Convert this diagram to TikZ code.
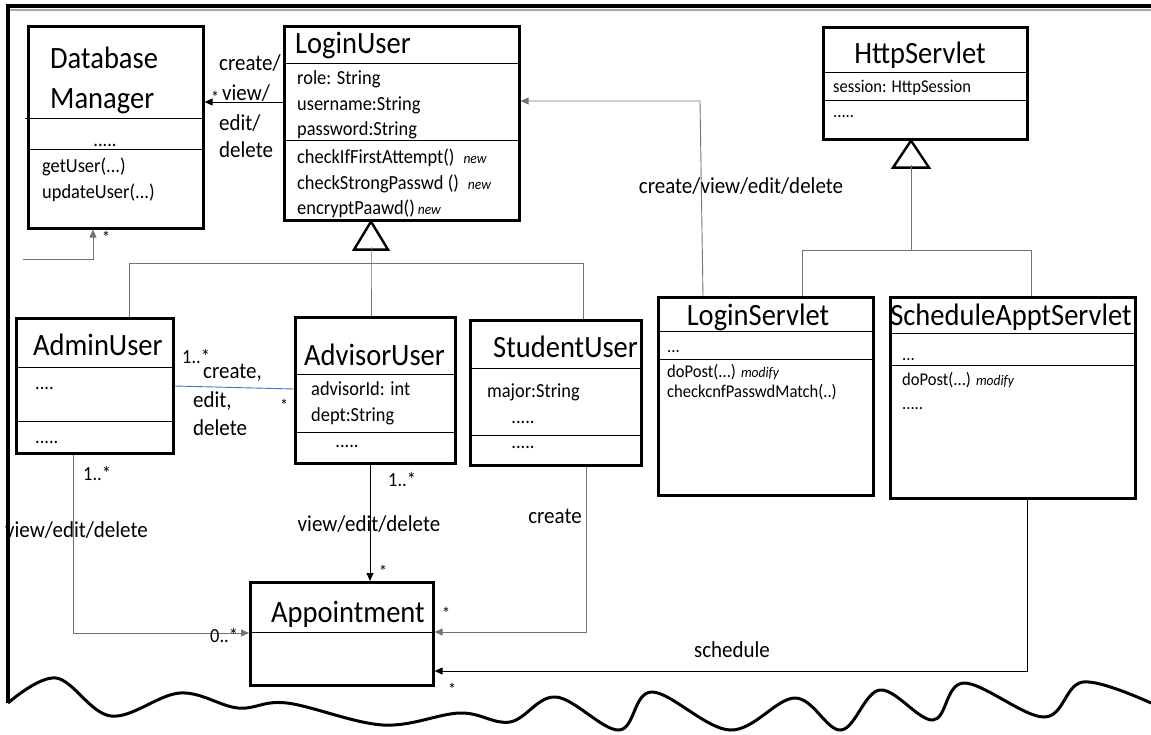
\documentclass[tikz,border=0pt]{standalone}
\usepackage{fontspec}
\setmainfont{Carlito}[FakeStretch=0.92]
\usetikzlibrary{arrows.meta}
\newcommand{\tagnote}[1]{{\fontsize{14.7}{16}\selectfont\itshape #1}}
\begin{document}
\begin{tikzpicture}[x=1pt,y=-1pt,
  classbox/.style={draw, line width=2.6pt, anchor=north west, inner sep=0pt},
  sep/.style={line width=0.8pt},
  conn/.style={line width=0.9pt, draw=black!55},
  dconn/.style={line width=0.9pt, draw=black},
  tip/.style={-{Triangle[length=8pt,width=7pt]}},
  title/.style={font=\fontsize{31}{33}\selectfont, anchor=base west, inner sep=0pt},
  attr/.style={font=\fontsize{20}{22}\selectfont, anchor=base west, inner sep=0pt},
  small/.style={font=\fontsize{18}{20}\selectfont, anchor=base west, inner sep=0pt},
  lbl/.style={font=\fontsize{22.8}{25}\selectfont, anchor=base west, inner sep=0pt},
  mult/.style={font=\fontsize{20}{22}\selectfont, anchor=base west, inner sep=0pt},
  star/.style={font=\fontsize{17.4}{19}\selectfont, inner sep=0pt},
  gentri/.style={draw, line width=2.4pt, fill=white, line join=miter},
]
\useasboundingbox (0,0) rectangle (1151,734);

% ---------- sheet outline with torn bottom edge ----------
\draw[black!35, line width=2pt] (10,10) -- (1151,10);
\draw[line width=4pt] (1151,6) -- (8,6) -- (8,703);
\draw[line width=3pt, line join=round] plot[smooth, tension=0.6] coordinates {
  (8,703) (56,678) (111,716) (180,693) (238,708) (287,703) (383,725)
  (460,713) (510,722) (556,697) (619,730) (652,692) (730,730) (795,698)
  (841,730) (880,690) (933,720) (964,683) (1044,717) (1083,682) (1151,703)};

% ---------- Database Manager ----------
\node[classbox, minimum width=175pt, minimum height=202pt] (db) at (27,25) {};
\draw[sep] (25,118) -- (db.east |- 0,118);
\draw[sep] (db.west |- 0,149) -- (db.east |- 0,149);
\node[title] (dbName1) at (50,68) {Database};
\node[title] (dbName2) at (50,108) {Manager};
\node[attr, anchor=base] (dbDots) at (105,146) {.....};
\node[attr] (dbM1) at (42,172) {getUser(...)};
\node[attr] (dbM2) at (42,198) {updateUser(...)};

% ---------- LoginUser ----------
\node[classbox, minimum width=235pt, minimum height=194pt] (lu) at (283,25) {};
\draw[sep] (lu.west |- 0,63) -- (lu.east |- 0,63);
\draw[sep] (lu.west |- 0,140) -- (lu.east |- 0,140);
\node[title] (luName) at (295,53) {LoginUser};
\node[attr] (luA1) at (297,84) {role: String};
\node[attr] (luA2) at (297,110) {username:String};
\node[attr] (luA3) at (297,135) {password:String};
\node[attr] (luM1) at (297,163) {checkIfFirstAttempt()\hspace{9pt}\tagnote{new}};
\node[attr] (luM2) at (297,189) {checkStrongPasswd ()\hspace{9pt}\tagnote{new}};
\node[attr] (luM3) at (297,214) {encryptPaawd()\hspace{3pt}\tagnote{new}};

% ---------- HttpServlet ----------
\node[classbox, minimum width=204pt, minimum height=112pt] (hs) at (822,26) {};
\draw[sep] (hs.west |- 0,72) -- (hs.east |- 0,72);
\draw[sep] (hs.west |- 0,100) -- (hs.east |- 0,100);
\node[title, anchor=base] (hsName) at (920,63) {HttpServlet};
\node[small] (hsA1) at (833,92) {session: HttpSession};
\node[small] (hsDots) at (833,117) {.....};

% ---------- AdminUser ----------
\node[classbox, minimum width=157pt, minimum height=135pt] (admin) at (15,317) {};
\draw[sep] (admin.west |- 0,367) -- (admin.east |- 0,367);
\draw[sep] (admin.west |- 0,421) -- (admin.east |- 0,421);
\node[title] (adName) at (33,355) {AdminUser};
\node[attr] (adDots1) at (35,389) {....};
\node[attr] (adDots2) at (35,443) {.....};

% ---------- AdvisorUser ----------
\node[classbox, minimum width=160pt, minimum height=146pt] (adv) at (294,316) {};
\draw[sep] (adv.west |- 0,374) -- (adv.east |- 0,374);
\draw[sep] (adv.west |- 0,432) -- (adv.east |- 0,432);
\node[title] (avName) at (304,365) {AdvisorUser};
\node[attr] (avA1) at (311,395) {advisorId: int};
\node[attr] (avA2) at (311,421) {dept:String};
\node[attr, anchor=base] (avDots) at (347,447) {.....};

% ---------- StudentUser ----------
\node[classbox, minimum width=171pt, minimum height=145pt] (stu) at (469,319) {};
\draw[sep] (stu.west |- 0,368) -- (stu.east |- 0,368);
\draw[sep] (stu.west |- 0,435) -- (stu.east |- 0,435);
\node[title] (stName) at (493,357) {StudentUser};
\node[attr] (stA1) at (487,397) {major:String};
\node[attr, anchor=base] (stDots1) at (523,423) {.....};
\node[attr, anchor=base] (stDots2) at (523,448) {.....};

% ---------- LoginServlet ----------
\node[classbox, minimum width=215pt, minimum height=198pt] (ls) at (657,296) {};
\draw[sep] (ls.west |- 0,331) -- (ls.east |- 0,331);
\draw[sep] (ls.west |- 0,359) -- (ls.east |- 0,359);
\node[title, anchor=base] (lsName) at (758,325) {LoginServlet};
\node[small] (lsDots) at (667,352) {...};
\node[small] (lsM1) at (667,377) {doPost(...) \tagnote{modify}};
\node[small] (lsM2) at (667,397) {checkcnfPasswdMatch(..)};

% ---------- ScheduleApptServlet ----------
\node[classbox, minimum width=245pt, minimum height=201pt] (sa) at (889,296) {};
\draw[sep] (sa.west |- 0,333) -- (sa.east |- 0,333);
\draw[sep] (sa.west |- 0,365) -- (sa.east |- 0,365);
\node[title, anchor=base] (saName) at (1011,325) {ScheduleApptServlet};
\node[small] (saDots1) at (902,360) {...};
\node[small] (saM1) at (902,385) {doPost(...) \tagnote{modify}};
\node[small] (saDots2) at (902,409) {.....};

% ---------- Appointment ----------
\node[classbox, minimum width=183pt, minimum height=103pt] (ap) at (249,581) {};
\draw[sep] (ap.west |- 0,632) -- (ap.east |- 0,632);
\node[title] (apName) at (271,622) {Appointment};

% ---------- generalizations ----------
\coordinate (luTip) at (lu.south -| 371,0);
\draw[gentri] (luTip) -- ++(-17,28) -- ++(34,0) -- cycle;
\coordinate (luBase) at (371,247);
\coordinate (genBar) at (371,263);
\coordinate (genL) at (129,263);
\coordinate (genR) at (583,263);
\draw[conn] (luBase) -- (genBar) -- (genBar |- adv.north);
\draw[conn] (genL |- admin.north) -- (genL) -- (genR) -- (genR |- stu.north);

\coordinate (hsTip) at (hs.south -| 911,0);
\draw[gentri] (hsTip) -- ++(-18,27) -- ++(36,0) -- cycle;
\coordinate (hsBase) at (911,165);
\coordinate (hsBar) at (911,250);
\coordinate (hsL) at (802,250);
\coordinate (hsR) at (1031,250);
\draw[conn] (hsBase) -- (hsBar);
\draw[conn] (hsL |- ls.north) -- (hsL) -- (hsR) -- (hsR |- sa.north);

% ---------- associations ----------
\draw[dconn, tip] (lu.west |- 0,102) -- (db.east |- 0,102);
\node[star] (mDB1) at (215,97) {*};
\node[lbl] (lblC1) at (219,70) {create/};
\node[lbl] (lblC2) at (222,100) {view/};
\node[lbl] (lblC3) at (219,130) {edit/};
\node[lbl] (lblC4) at (219,157) {delete};

\coordinate (dbIn) at (23,259);
\coordinate (dbCorner) at (93,259);
\draw[conn, tip] (dbIn) -- (dbCorner) -- (dbCorner |- db.south);
\node[star] (mDB2) at (106,237) {*};

\coordinate (lsBend) at (700,101);
\draw[conn, tip] (ls.north -| 703,0) -- (lsBend) -- (lsBend -| lu.east);
\node[lbl, anchor=base] (lblLS) at (741,193) {create/view/edit/delete};

\draw[line width=0.9pt, draw={rgb,255:red,68;green,114;blue,196}] (admin.east |- 0,386) -- (adv.west |- 0,389);
\node[mult] (mAA1) at (182,363) {1..*};
\node[lbl] (lblAA1) at (203,378) {create,};
\node[lbl] (lblAA2) at (193,407) {edit,};
\node[lbl] (lblAA3) at (193,435) {delete};
\node[star] (mAA2) at (284,405) {*};

\coordinate (adDown) at (73,633);
\draw[conn, tip] (admin.south -| adDown) -- (adDown) -- (adDown -| ap.west);
\node[mult] (mAd1) at (83,480) {1..*};
\node[lbl] (lblAd) at (5,537) {view/edit/delete};
\node[mult] (mAd2) at (210,642) {0..*};

\coordinate (avDown) at (370,0);
\draw[dconn, tip] (adv.south -| avDown) -- (ap.north -| avDown);
\node[mult] (mAv1) at (388,486) {1..*};
\node[lbl, anchor=base] (lblAv) at (369,531) {view/edit/delete};
\node[star] (mAv2) at (383,571) {*};

\coordinate (stDown) at (586,632);
\draw[conn, tip] (stu.south -| stDown) -- (stDown) -- (stDown -| ap.east);
\node[lbl, anchor=base] (lblSt) at (555,523) {create};
\node[star] (mSt) at (446,613) {*};

\coordinate (saDown) at (1027,671);
\draw[dconn, tip] (sa.south -| saDown) -- (saDown) -- (saDown -| ap.east);
\node[lbl, anchor=base] (lblSa) at (732,657) {schedule};
\node[star] (mSa) at (452,689) {*};
\end{tikzpicture}
\end{document}
